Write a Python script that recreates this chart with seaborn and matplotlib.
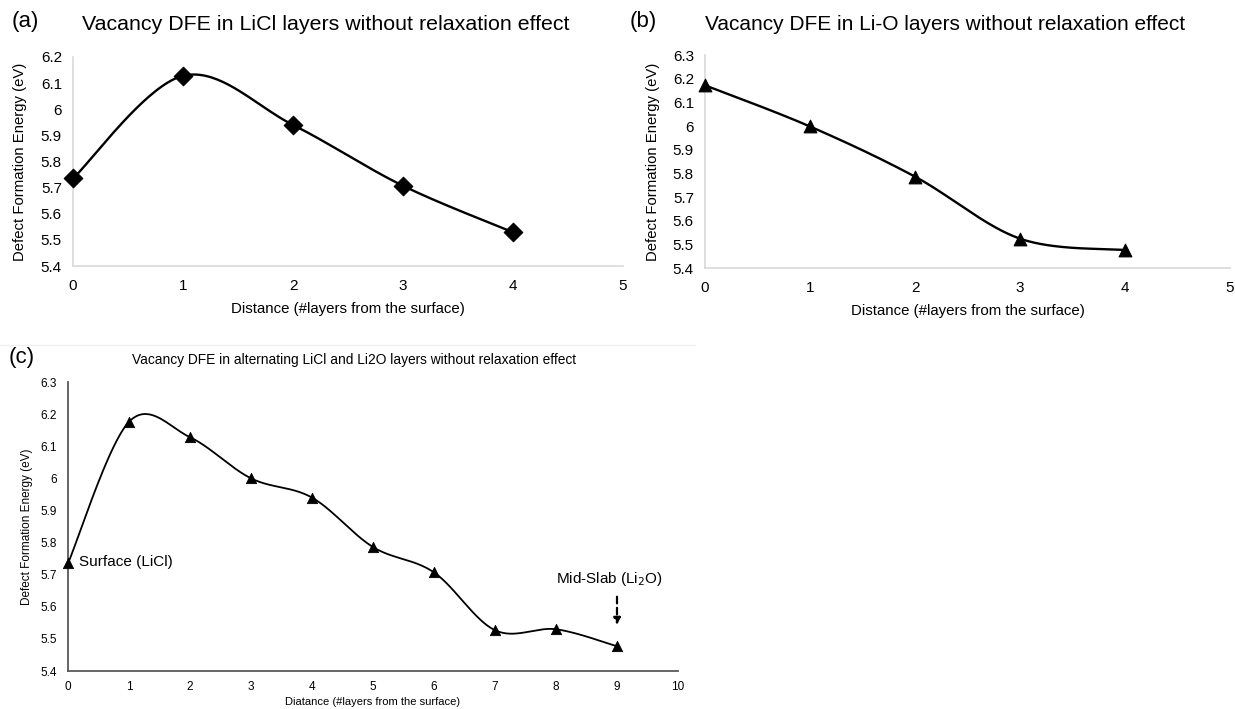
import numpy as np
import pandas as pd
import matplotlib
matplotlib.use("Agg")
import matplotlib.pyplot as plt
import seaborn as sns

sns.set_theme(style="white")
plt.rcParams['font.family'] = ['Liberation Sans', 'DejaVu Sans']
plt.rcParams['text.color'] = 'black'
plt.rcParams['axes.labelcolor'] = 'black'
plt.rcParams['xtick.color'] = 'black'
plt.rcParams['ytick.color'] = 'black'

# ---- data ----
a_layers = [0, 1, 2, 3, 4]
a_dfe = [5.735, 6.128, 5.940, 5.707, 5.529]

b_layers = [0, 1, 2, 3, 4]
b_dfe = [6.172, 5.998, 5.786, 5.524, 5.476]

c_layers = [0, 1, 2, 3, 4, 5, 6, 7, 8, 9]
c_dfe = [5.735, 6.176, 6.128, 6.000, 5.940, 5.786, 5.707, 5.527, 5.530, 5.477]

a_title = "Vacancy DFE in LiCl layers without relaxation effect"
b_title = "Vacancy DFE in Li-O layers without relaxation effect"
c_title = "Vacancy DFE in alternating LiCl and Li2O layers without relaxation effect"
ylabel = "Defect Formation Energy (eV)"
ab_xlabel = "Distance (#layers from the surface)"
c_xlabel = "Diatance (#layers from the surface)"
yticks_a = ["5.4", "5.5", "5.6", "5.7", "5.8", "5.9", "6", "6.1", "6.2"]
yticks_bc = ["5.4", "5.5", "5.6", "5.7", "5.8", "5.9", "6", "6.1", "6.2", "6.3"]


def smooth(xs, ys, n=40):
    """Excel-like smoothed line (Bezier, Catmull-Rom control points)."""
    P = np.column_stack([xs, ys]).astype(float)
    out = []
    m = len(P)
    t = np.linspace(0, 1, n)[:, None]
    for i in range(m - 1):
        p0 = P[i - 1] if i > 0 else P[i]
        p1, p2 = P[i], P[i + 1]
        p3 = P[i + 2] if i + 2 < m else P[i + 1]
        c1 = p1 + (p2 - p0) / 6.0
        c2 = p2 - (p3 - p1) / 6.0
        seg = ((1 - t) ** 3) * p1 + 3 * ((1 - t) ** 2) * t * c1 + 3 * (1 - t) * t ** 2 * c2 + t ** 3 * p2
        out.append(seg if i == 0 else seg[1:])
    s = np.vstack(out)
    return pd.DataFrame({"x": s[:, 0], "y": s[:, 1]})


fig = plt.figure(figsize=(12.35, 7.09), dpi=100)
W, H = 1235, 709


def add_ax(l, t, r, b):
    return fig.add_axes([l / W, 1 - b / H, (r - l) / W, (b - t) / H])


def style(ax, spine_color, fs, lw=1.2, xpad=9, ypad=8):
    for s in ["top", "right"]:
        ax.spines[s].set_visible(False)
    for s in ["left", "bottom"]:
        ax.spines[s].set_color(spine_color)
        ax.spines[s].set_linewidth(lw)
    ax.tick_params(axis="both", length=0, labelsize=fs, colors="black")
    ax.tick_params(axis="x", pad=xpad)
    ax.tick_params(axis="y", pad=ypad)
    ax.grid(False)


# ---- (a) ----
ax_a = add_ax(73, 57, 623, 266)
df = smooth(a_layers, a_dfe)
sns.lineplot(data=df, x="x", y="y", sort=False, color="black", lw=1.7, ax=ax_a, estimator=None)
sns.scatterplot(x=a_layers, y=a_dfe, marker="D", s=90, color="black", edgecolor="black", ax=ax_a,
                zorder=5, clip_on=False)
ax_a.set_xlim(0, 5)
ax_a.set_ylim(5.4, 6.2)
ax_a.set_xticks(range(0, 6))
ax_a.set_yticks(np.round(np.arange(5.4, 6.21, 0.1), 1))
ax_a.set_yticklabels(yticks_a)
style(ax_a, "#d9d9d9", 11)
ax_a.set_xlabel(ab_xlabel, fontsize=10.8, labelpad=7)
ax_a.set_ylabel(ylabel, fontsize=10.7)
ax_a.yaxis.set_label_coords(-0.084, 0.5)
fig.text(326 / W, 1 - 25 / H, a_title, ha="center", va="center", fontsize=15.4)
fig.text(25 / W, 1 - 22 / H, "(a)", ha="center", va="center", fontsize=16)

# ---- (b) ----
ax_b = add_ax(705, 55, 1230, 268)
df = smooth(b_layers, b_dfe)
sns.lineplot(data=df, x="x", y="y", sort=False, color="black", lw=1.7, ax=ax_b, estimator=None)
sns.scatterplot(x=b_layers, y=b_dfe, marker="^", s=85, color="black", edgecolor="black", ax=ax_b,
                zorder=5, clip_on=False)
ax_b.set_xlim(0, 5)
ax_b.set_ylim(5.4, 6.3)
ax_b.set_xticks(range(0, 6))
ax_b.set_yticks(np.round(np.arange(5.4, 6.31, 0.1), 1))
ax_b.set_yticklabels(yticks_bc)
style(ax_b, "#d9d9d9", 11)
ax_b.set_xlabel(ab_xlabel, fontsize=10.8, labelpad=7)
ax_b.set_ylabel(ylabel, fontsize=10.7)
ax_b.yaxis.set_label_coords(-0.086, 0.5)
fig.text(945 / W, 1 - 25 / H, b_title, ha="center", va="center", fontsize=15.0)
fig.text(643 / W, 1 - 22 / H, "(b)", ha="center", va="center", fontsize=16)

# ---- (c) ----
ax_c = add_ax(68, 382, 678, 671)
df = smooth(c_layers, c_dfe)
sns.lineplot(data=df, x="x", y="y", sort=False, color="black", lw=1.3, ax=ax_c, estimator=None)
sns.scatterplot(x=c_layers, y=c_dfe, marker="^", s=55, color="black", edgecolor="black", ax=ax_c,
                zorder=5, clip_on=False)
ax_c.set_xlim(0, 10)
ax_c.set_ylim(5.4, 6.3)
ax_c.set_xticks(range(0, 11))
ax_c.set_yticks(np.round(np.arange(5.4, 6.31, 0.1), 1))
ax_c.set_yticklabels(yticks_bc)
style(ax_c, "#595959", 8.5, lw=1.3, xpad=7, ypad=8)
ax_c.set_xlabel(c_xlabel, fontsize=8, labelpad=3)
ax_c.set_ylabel(ylabel, fontsize=8.5)
ax_c.yaxis.set_label_coords(-0.057, 0.5)
fig.text(354 / W, 1 - 360 / H, c_title, ha="center", va="center", fontsize=9.9)
fig.text(22 / W, 1 - 358 / H, "(c)", ha="center", va="center", fontsize=16)

ax_c.annotate("Surface (LiCl)", xy=(c_layers[0], c_dfe[0]), xytext=(8, 1),
              textcoords="offset points", ha="left", va="center", fontsize=11)
ax_c.annotate("", xy=(c_layers[9], 5.535), xytext=(c_layers[9], 5.64),
              arrowprops=dict(arrowstyle="-|>", color="black", lw=1.6, linestyle=(0, (3, 2)),
                              mutation_scale=10))
ax_c.text(c_layers[9] - 0.13, 5.686, "Mid-Slab (Li$_2$O)", ha="center", va="center", fontsize=11)

# faint frame line above panel (c)
fig.add_artist(plt.Line2D([0, 695 / W], [1 - 345 / H, 1 - 345 / H], color="#f0f0f0", lw=1))

fig.savefig("out.png", dpi=100)
